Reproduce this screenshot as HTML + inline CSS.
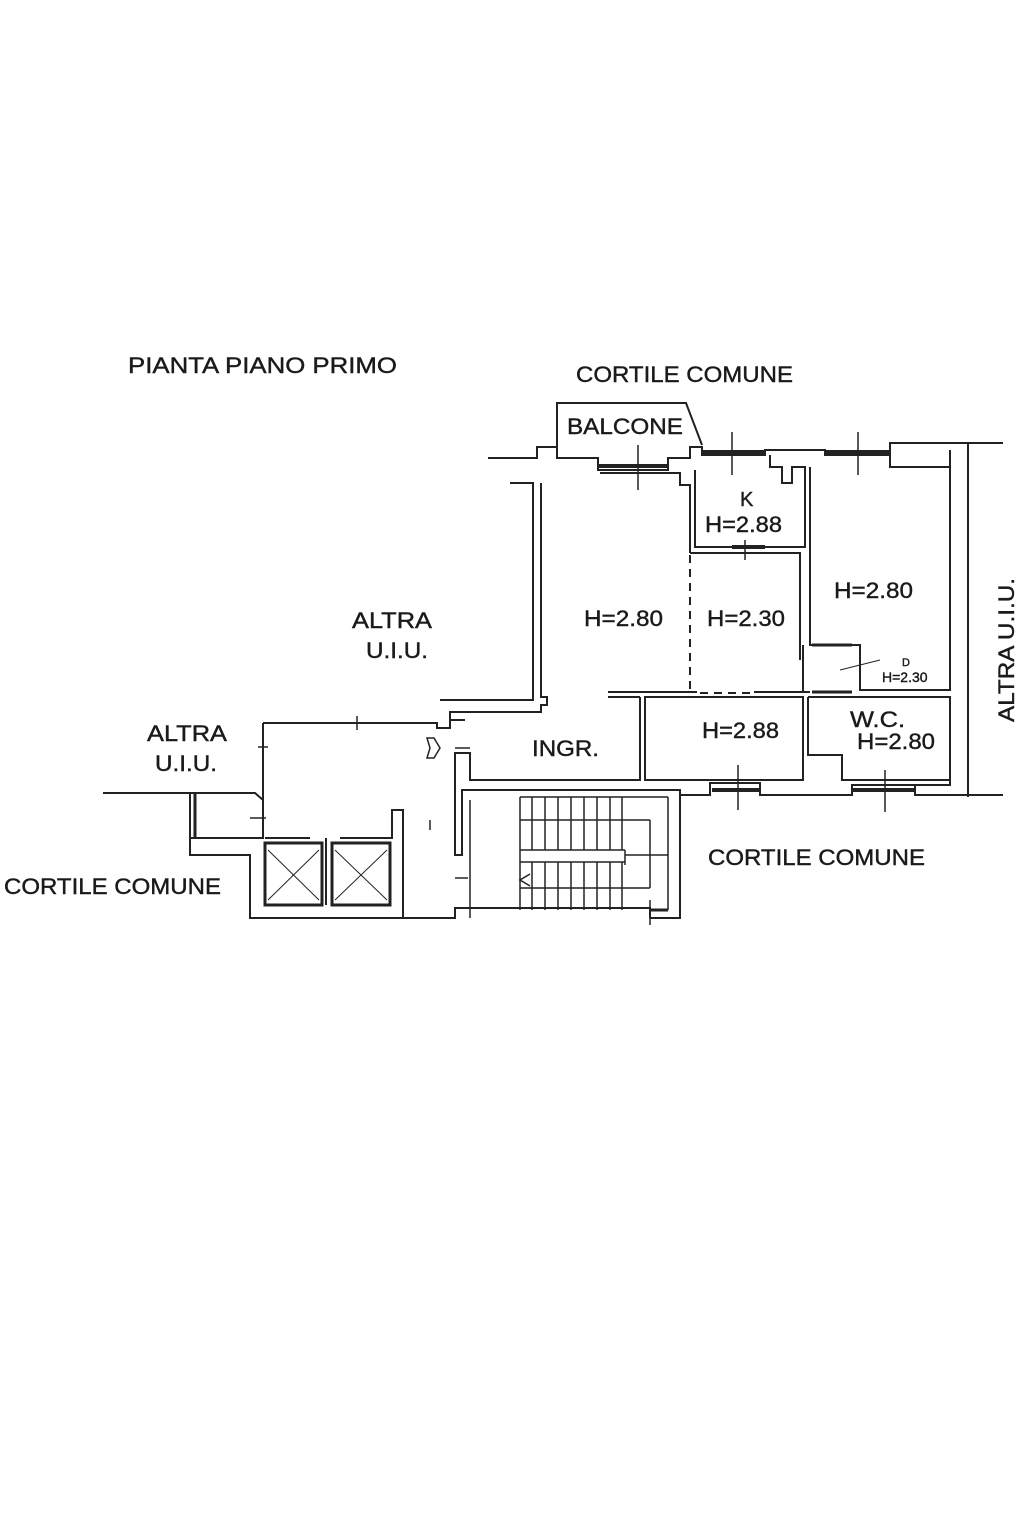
<!DOCTYPE html>
<html><head><meta charset="utf-8"><style>
html,body{margin:0;padding:0;background:#fff;}
svg{display:block}
text{font-family:"Liberation Sans",Arial,sans-serif;fill:#1a1a1a;stroke:#1a1a1a;stroke-width:0.4;}
</style></head><body>
<svg width="1023" height="1535" viewBox="0 0 1023 1535" xmlns="http://www.w3.org/2000/svg">
<g stroke="#222" stroke-width="2" fill="none">
<polyline points="557,458 557,403 686,403 702,445"/>
<polyline points="488,458 537,458 537,447 557,447 557,458 598,458 598,470 668,470 668,458 690,458 690,447 702,447 702,455 765,455 765,450 825,450 825,455 890,455 890,443 1003,443"/>
<line x1="598" y1="466" x2="668" y2="466" stroke-width="4"/>
<line x1="702" y1="452" x2="765" y2="452" stroke-width="4"/>
<line x1="825" y1="452" x2="890" y2="452" stroke-width="4"/>
<polyline points="510,483 533,483 533,700 440,700"/>
<polyline points="600,473 680,473 680,485 690,485 690,553"/>
<polyline points="541,483 541,697 547,697 547,705 541,705 541,712 450,712 450,720 465,720"/>
<polyline points="695,470 695,547 805,547 805,467 792,467 792,483 782,483 782,467 770,467 770,455"/>
<line x1="732" y1="547" x2="765" y2="547" stroke-width="4"/>
<polyline points="690,553 800,553 800,660"/>
<line x1="690" y1="555" x2="690" y2="690" stroke-dasharray="8,6"/>
<line x1="700" y1="693" x2="750" y2="693" stroke-dasharray="8,6"/>
<polyline points="608,692 697,692"/>
<polyline points="754,692 803,692"/>
<polyline points="810,467 810,645 860,645 860,690 950,690 950,467 890,467 890,455"/>
<polyline points="803,645 803,692 810,692"/>
<line x1="812" y1="645" x2="852" y2="645" stroke-width="3"/>
<line x1="812" y1="692" x2="852" y2="692" stroke-width="3"/>
<line x1="840" y1="670" x2="880" y2="660" stroke-width="1"/>
<line x1="968" y1="443" x2="968" y2="797"/>
<line x1="950" y1="450" x2="950" y2="467"/>
<rect x="645" y="697" width="158" height="83"/>
<polyline points="808,697 950,697 950,785 915,785 915,795 1003,795"/>
<polyline points="808,697 808,755 842,755 842,780 950,780"/>
<polyline points="680,795 710,795 710,783 760,783 760,795 852,795 852,785 915,785"/>
<line x1="712" y1="790" x2="760" y2="790" stroke-width="4"/>
<line x1="852" y1="790" x2="915" y2="790" stroke-width="4"/>
<polyline points="640,697 640,780 470,780 470,753 455,753 455,855 462,855 462,790 680,790 680,918 650,918"/>
<line x1="608" y1="697" x2="640" y2="697"/>
<polyline points="263,723 437,723 437,728 450,728 450,720"/>
<g stroke-width="1.5">
<polyline points="470,800 470,918"/>
<line x1="520" y1="797" x2="520" y2="910"/>
<line x1="520" y1="797" x2="668" y2="797"/>
<line x1="520" y1="820" x2="650" y2="820"/>
<line x1="520" y1="850" x2="625" y2="850"/>
<line x1="520" y1="862" x2="625" y2="862"/>
<line x1="520" y1="888" x2="650" y2="888"/>
<line x1="650" y1="820" x2="650" y2="888"/>
<line x1="625" y1="850" x2="625" y2="865"/>
<line x1="625" y1="855" x2="668" y2="855"/>
<line x1="668" y1="797" x2="668" y2="910"/>
<g>
<line x1="532" y1="797" x2="532" y2="850"/><line x1="545" y1="797" x2="545" y2="850"/><line x1="558" y1="797" x2="558" y2="850"/><line x1="571" y1="797" x2="571" y2="850"/><line x1="584" y1="797" x2="584" y2="850"/><line x1="597" y1="797" x2="597" y2="850"/><line x1="610" y1="797" x2="610" y2="850"/><line x1="622" y1="797" x2="622" y2="850"/>
<line x1="532" y1="862" x2="532" y2="910"/><line x1="545" y1="862" x2="545" y2="910"/><line x1="558" y1="862" x2="558" y2="910"/><line x1="571" y1="862" x2="571" y2="910"/><line x1="584" y1="862" x2="584" y2="910"/><line x1="597" y1="862" x2="597" y2="910"/><line x1="610" y1="862" x2="610" y2="910"/><line x1="622" y1="862" x2="622" y2="910"/>
</g>
<polyline points="530,874 520,880 530,886"/>
</g>
<polyline points="403,918 455,918 455,908 650,908 650,918"/>
<line x1="650" y1="910" x2="668" y2="910" stroke-width="3"/>
<polyline points="103,793 190,793 190,838 263,838 263,723"/>
<polyline points="190,793 255,793 263,800"/>
<line x1="195" y1="793" x2="195" y2="838" stroke-width="3"/>
<polyline points="190,838 190,855 250,855 250,918 403,918 403,810 392,810 392,838 380,838"/>
<rect x="265" y="843" width="57" height="62" stroke-width="3"/>
<rect x="332" y="843" width="58" height="62" stroke-width="3"/>
<line x1="268" y1="850" x2="319" y2="900" stroke-width="1"/><line x1="319" y1="850" x2="268" y2="900" stroke-width="1"/>
<line x1="335" y1="850" x2="387" y2="900" stroke-width="1"/><line x1="387" y1="850" x2="335" y2="900" stroke-width="1"/>
<line x1="265" y1="838" x2="310" y2="838"/><line x1="340" y1="838" x2="380" y2="838"/>
<line x1="326" y1="838" x2="326" y2="905"/>
<g stroke-width="1.5">
<line x1="638" y1="445" x2="638" y2="490"/><line x1="732" y1="432" x2="732" y2="475"/><line x1="858" y1="432" x2="858" y2="475"/>
<line x1="745" y1="540" x2="745" y2="560"/><line x1="738" y1="765" x2="738" y2="810"/><line x1="885" y1="770" x2="885" y2="812"/>
<line x1="650" y1="900" x2="650" y2="925"/><line x1="357" y1="716" x2="357" y2="730"/><line x1="258" y1="747" x2="268" y2="747"/><line x1="250" y1="818" x2="266" y2="818"/>
<line x1="455" y1="748" x2="470" y2="748"/><line x1="455" y1="878" x2="468" y2="878"/><line x1="430" y1="820" x2="430" y2="830"/>
</g>
<polygon points="427,738 434,738 440,748 434,758 427,758 430,748" stroke-width="1.5"/>
</g>
<text x="128" y="373" font-size="22" textLength="269" lengthAdjust="spacingAndGlyphs">PIANTA PIANO PRIMO</text>
<text x="576" y="382" font-size="22" textLength="217" lengthAdjust="spacingAndGlyphs">CORTILE COMUNE</text>
<text x="567" y="434" font-size="22" textLength="116" lengthAdjust="spacingAndGlyphs">BALCONE</text>
<text x="740" y="506" font-size="20">K</text>
<text x="705" y="532" font-size="22" textLength="77" lengthAdjust="spacingAndGlyphs">H=2.88</text>
<text x="584" y="626" font-size="22" textLength="79" lengthAdjust="spacingAndGlyphs">H=2.80</text>
<text x="707" y="626" font-size="22" textLength="78" lengthAdjust="spacingAndGlyphs">H=2.30</text>
<text x="834" y="598" font-size="22" textLength="79" lengthAdjust="spacingAndGlyphs">H=2.80</text>
<text x="902" y="666" font-size="11">D</text>
<text x="882" y="682" font-size="14">H=2.30</text>
<text x="352" y="628" font-size="22" textLength="80" lengthAdjust="spacingAndGlyphs">ALTRA</text>
<text x="366" y="658" font-size="22" textLength="62" lengthAdjust="spacingAndGlyphs">U.I.U.</text>
<text x="147" y="741" font-size="22" textLength="80" lengthAdjust="spacingAndGlyphs">ALTRA</text>
<text x="155" y="771" font-size="22" textLength="62" lengthAdjust="spacingAndGlyphs">U.I.U.</text>
<text x="532" y="756" font-size="22" textLength="67" lengthAdjust="spacingAndGlyphs">INGR.</text>
<text x="702" y="738" font-size="22" textLength="77" lengthAdjust="spacingAndGlyphs">H=2.88</text>
<text x="850" y="727" font-size="22" textLength="55" lengthAdjust="spacingAndGlyphs">W.C.</text>
<text x="857" y="749" font-size="22" textLength="78" lengthAdjust="spacingAndGlyphs">H=2.80</text>
<text x="708" y="865" font-size="22" textLength="217" lengthAdjust="spacingAndGlyphs">CORTILE COMUNE</text>
<text x="4" y="894" font-size="22" textLength="217" lengthAdjust="spacingAndGlyphs">CORTILE COMUNE</text>
<text transform="translate(1014,722) rotate(-90)" font-size="22" textLength="144" lengthAdjust="spacingAndGlyphs">ALTRA U.I.U.</text>
</svg>
</body></html>
